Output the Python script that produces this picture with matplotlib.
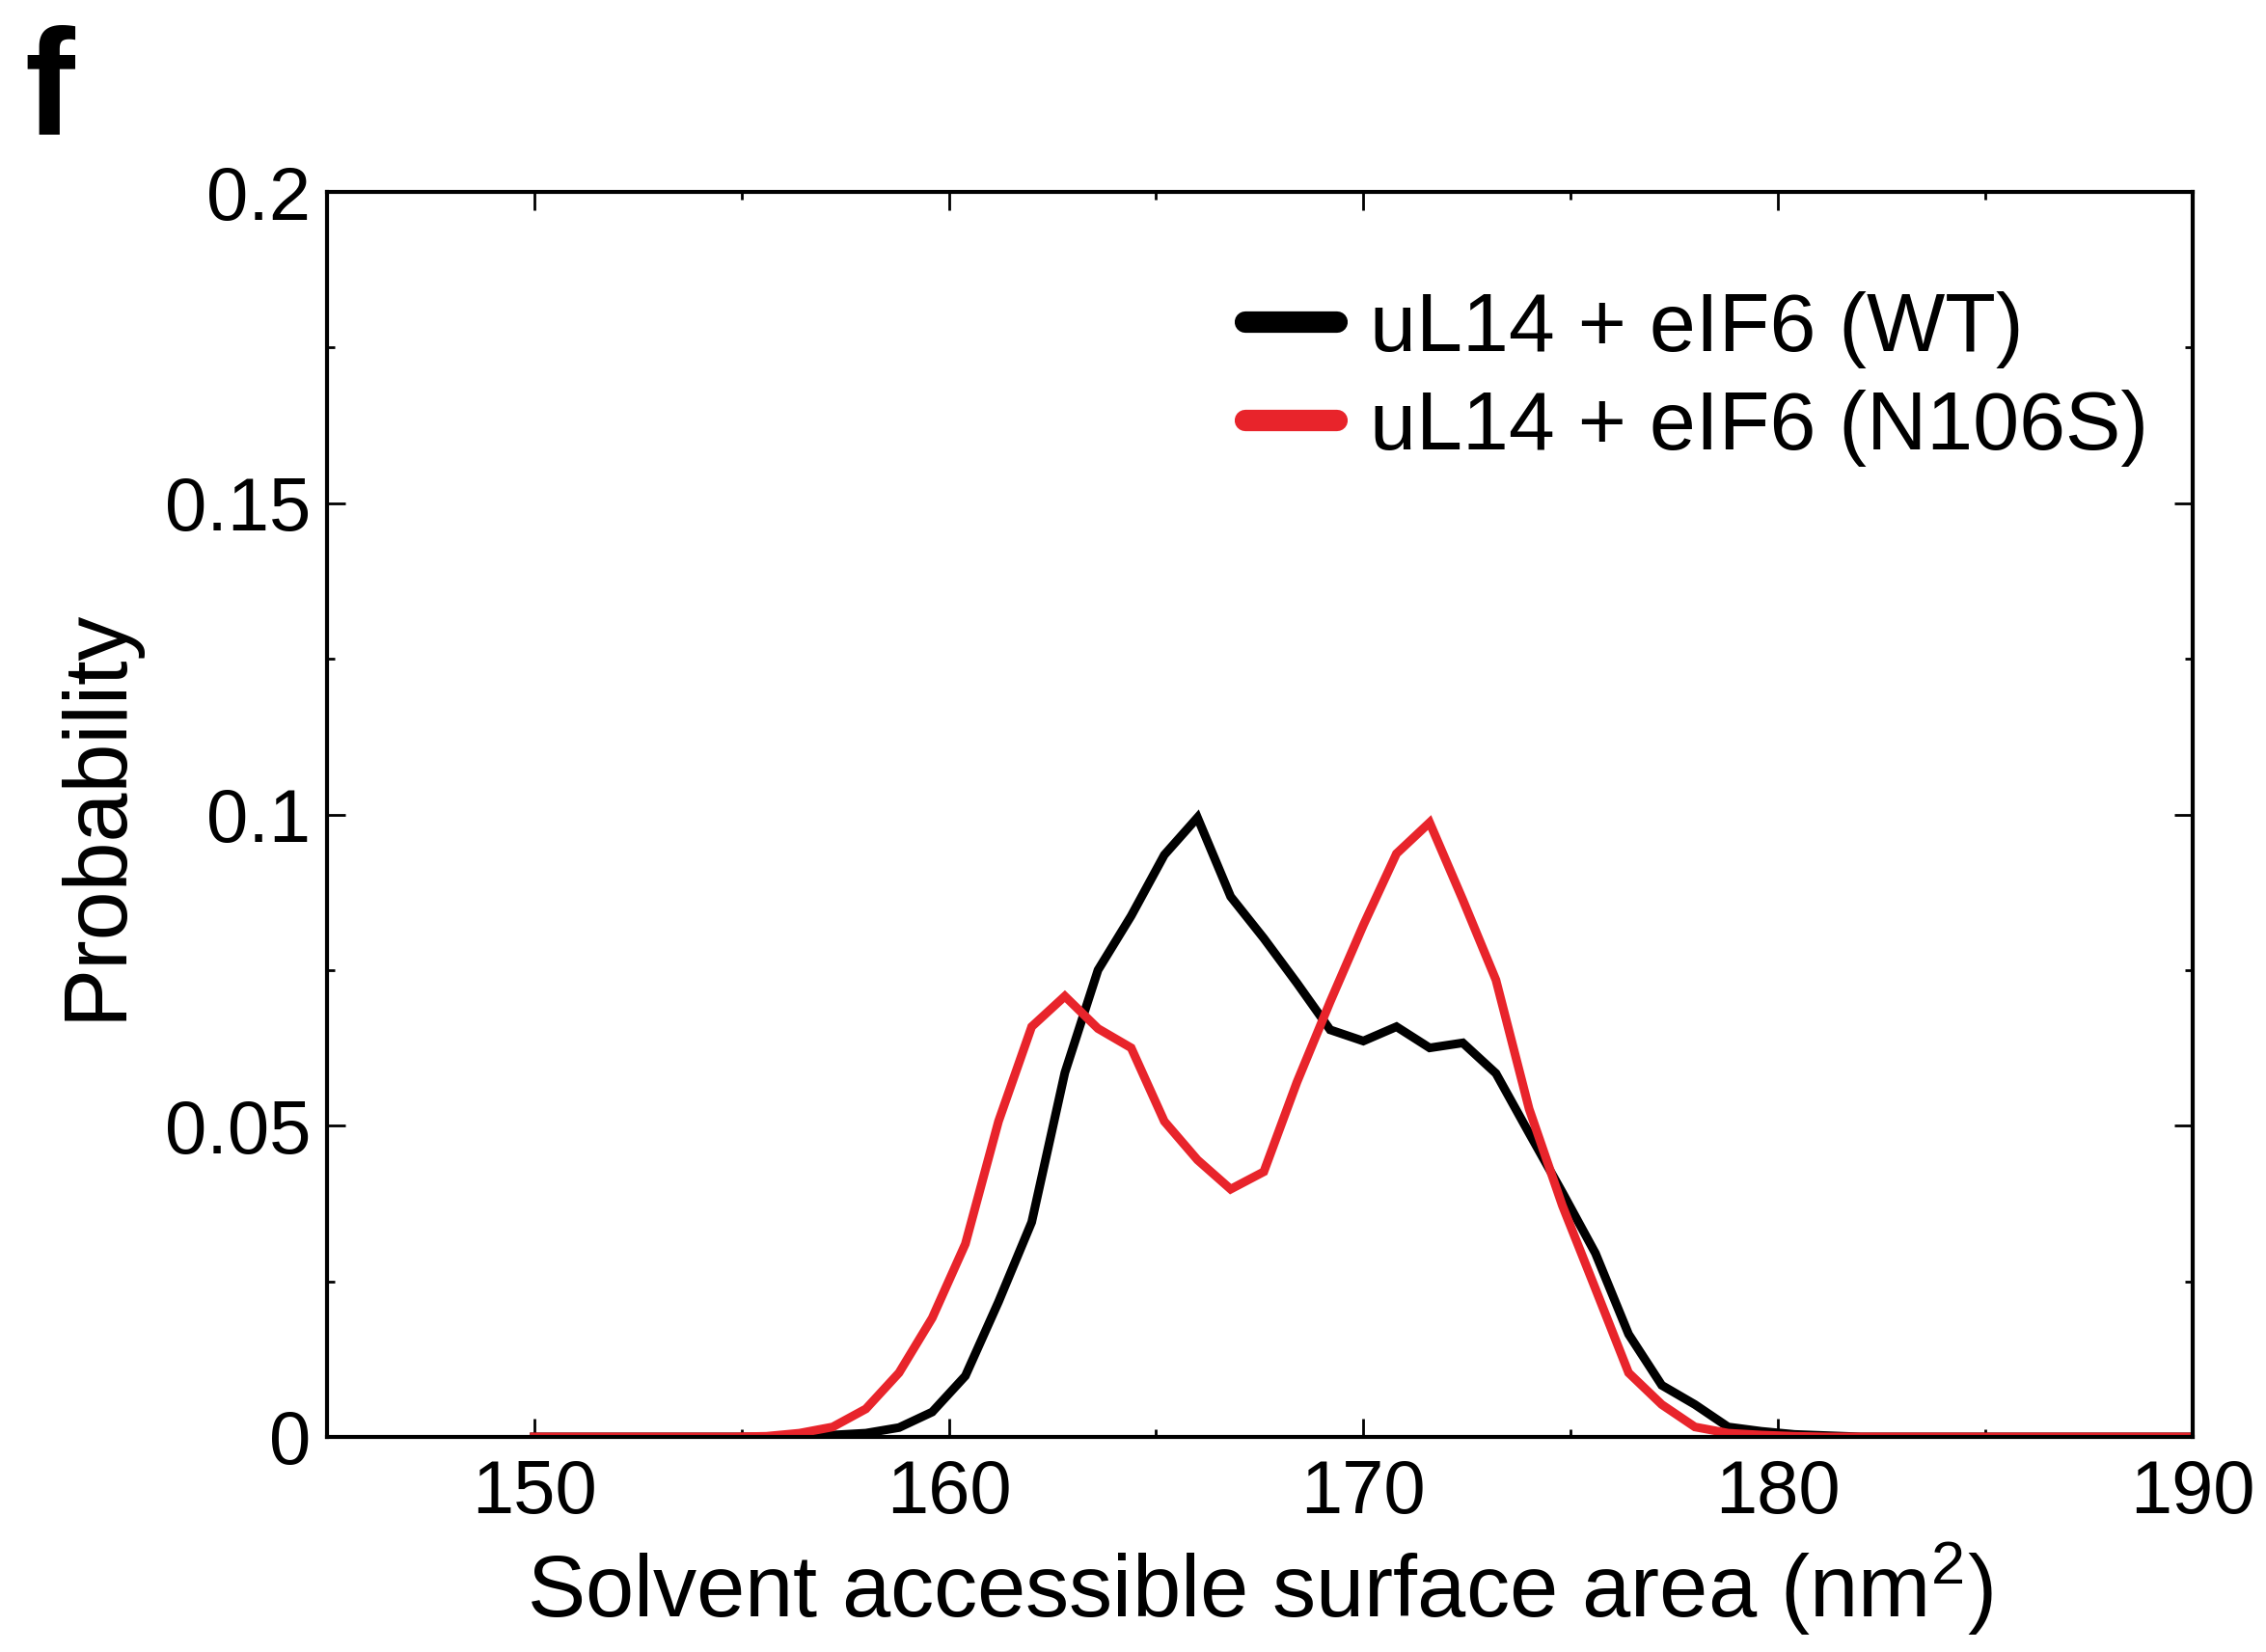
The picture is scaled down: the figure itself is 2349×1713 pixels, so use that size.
import numpy as np
import matplotlib
matplotlib.use("Agg")
import matplotlib.pyplot as plt
from matplotlib.ticker import MultipleLocator

plt.rcParams['font.family'] = ['Liberation Sans', 'DejaVu Sans']
plt.rcParams['mathtext.fontset'] = 'custom'
plt.rcParams['mathtext.rm'] = 'Liberation Sans'
plt.rcParams['mathtext.it'] = 'Liberation Sans:italic'

# SASA bins (nm^2)
sasa = [150.0, 150.8, 151.6, 152.4, 153.2, 154.0, 154.8, 155.6, 156.4, 157.2,
        158.0, 158.8, 159.6, 160.4, 161.2, 162.0, 162.8, 163.6, 164.4, 165.2,
        166.0, 166.8, 167.6, 168.4, 169.2, 170.0, 170.8, 171.6, 172.4, 173.2,
        174.0, 174.8, 175.6, 176.4, 177.2, 178.0, 178.8, 179.6, 180.4, 181.2,
        182.0, 182.8, 183.6, 184.4, 185.2, 186.0, 186.8, 187.6, 188.4, 189.2,
        190.0]

# probabilities
wt = [0, 0, 0, 0, 0, 0, 0, 0, 0.0001, 0.0003,
      0.0006, 0.0015, 0.0040, 0.0098, 0.0217, 0.0345, 0.0585, 0.0750, 0.0837, 0.0935,
      0.0995, 0.0868, 0.0801, 0.0729, 0.0654, 0.0636, 0.0659, 0.0625, 0.0633, 0.0584,
      0.0488, 0.0393, 0.0295, 0.0165, 0.0083, 0.0052, 0.0016, 0.0009, 0.0004, 0.0002,
      0, 0, 0, 0, 0, 0, 0, 0, 0, 0,
      0]
n106s = [0, 0, 0, 0, 0, 0, 0, 0.0001, 0.0006, 0.0016,
         0.0045, 0.0103, 0.0191, 0.0310, 0.0507, 0.0659, 0.0708, 0.0656, 0.0625, 0.0507,
         0.0445, 0.0398, 0.0426, 0.0570, 0.0699, 0.0822, 0.0937, 0.0987, 0.0863, 0.0734,
         0.0527, 0.0372, 0.0238, 0.0103, 0.0052, 0.0016, 0.0006, 0.0003, 0.0001, 0,
         0, 0, 0, 0, 0, 0, 0, 0, 0, 0,
         0]

labels = ["uL14 + eIF6 (WT)", "uL14 + eIF6 (N106S)"]
colors = ["#000000", "#e8242b"]

fig = plt.figure(figsize=(23.49, 17.13), dpi=100)
ax = fig.add_axes([0.1443, 0.1302, 0.8232, 0.7536])

ax.plot(sasa, wt, color=colors[0], lw=6.5, label=labels[0], solid_joinstyle='miter')
ax.plot(sasa, n106s, color=colors[1], lw=6.5, label=labels[1], solid_joinstyle='miter')

ax.set_xlim(145, 190)
ax.set_ylim(0, 0.2)
ax.xaxis.set_major_locator(MultipleLocator(10))
ax.xaxis.set_minor_locator(MultipleLocator(5))
ax.yaxis.set_major_locator(MultipleLocator(0.05))
ax.yaxis.set_minor_locator(MultipleLocator(0.025))
ax.set_yticks([0, 0.05, 0.1, 0.15, 0.2])
ax.set_yticklabels(["0", "0.05", "0.1", "0.15", "0.2"])

ax.tick_params(which='both', direction='in', top=True, right=True, width=2)
ax.tick_params(which='major', length=14, labelsize=56)
ax.tick_params(which='minor', length=6)
ax.tick_params(axis='y', pad=12)
ax.tick_params(axis='x', pad=16)
for s in ax.spines.values():
    s.set_linewidth(3)

ax.set_xlabel("Solvent accessible surface area (nm$^2$)", fontsize=65, labelpad=8)
ax.set_ylabel("Probability", fontsize=66, labelpad=20)

leg = ax.legend(loc='upper right', bbox_to_anchor=(0.9767, 0.92), frameon=False,
                borderpad=0, borderaxespad=0,
                fontsize=62, handlelength=1.1, handletextpad=0.4, labelspacing=0.25)
for h in leg.legend_handles:
    h.set_linewidth(16)
    h.set_solid_capstyle('round')

fig.text(0.011, 0.985, "f", fontsize=112, fontweight='bold', va='top', ha='left')

fig.savefig("out.png", dpi=100)
